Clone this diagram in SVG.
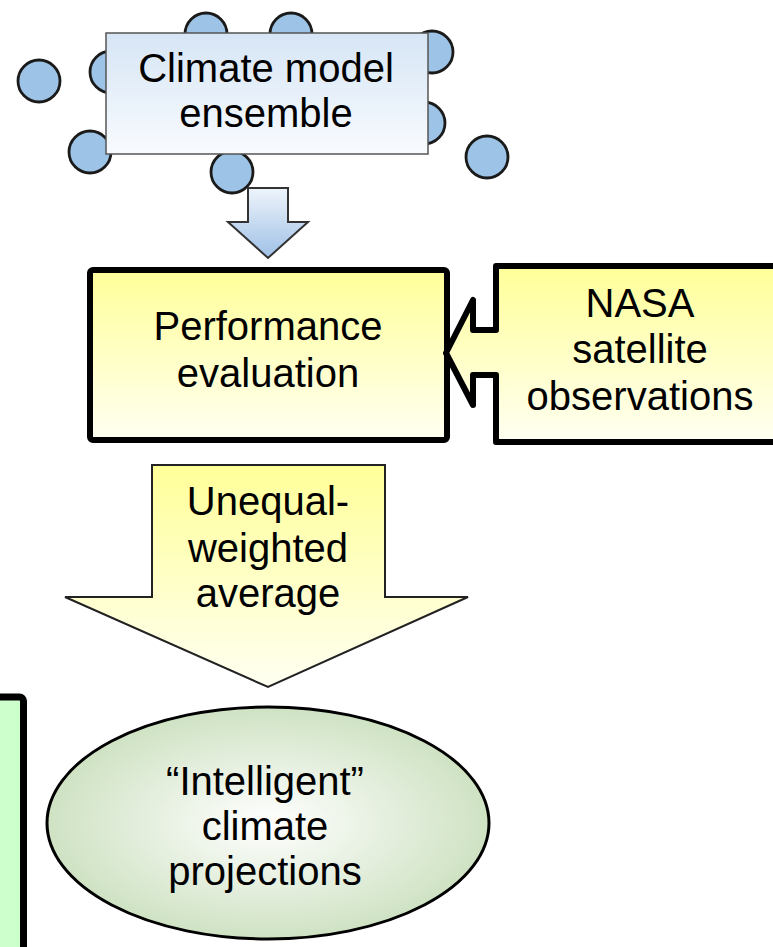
<svg xmlns="http://www.w3.org/2000/svg" width="773" height="947" viewBox="0 0 773 947">
<defs>
<linearGradient id="gBox" x1="0" y1="0" x2="0" y2="1"><stop offset="0" stop-color="#d6e5f5"/><stop offset="1" stop-color="#f8fbfe"/></linearGradient>
<linearGradient id="gBlueArrow" x1="0" y1="0" x2="0" y2="1"><stop offset="0" stop-color="#eef4fb"/><stop offset="1" stop-color="#9fc0e6"/></linearGradient>
<linearGradient id="gYellow" x1="0" y1="0" x2="0" y2="1"><stop offset="0" stop-color="#ffff99"/><stop offset="1" stop-color="#fffff2"/></linearGradient>
<radialGradient id="gGreen" cx="0.5" cy="0.5" r="0.5"><stop offset="0" stop-color="#ffffff"/><stop offset="1" stop-color="#cfe2c3"/></radialGradient>
<style>
.dot{fill:#9dc3e6;stroke:#1a1a1a;stroke-width:2.8}
.t{font-family:"Liberation Sans",Arial,sans-serif;font-size:40px;fill:#000;text-anchor:middle}
.thick{stroke:#000;stroke-width:6;stroke-linejoin:round}
</style>
</defs>
<g id="ensemble-dots">
<circle class="dot" cx="39" cy="81" r="21"/>
<circle class="dot" cx="206" cy="34" r="21"/>
<circle class="dot" cx="291" cy="34" r="21"/>
<circle class="dot" cx="111" cy="72" r="21"/>
<circle class="dot" cx="90" cy="152" r="21"/>
<circle class="dot" cx="232" cy="172" r="21"/>
<circle class="dot" cx="432" cy="52" r="21"/>
<circle class="dot" cx="424" cy="123" r="21"/>
<circle class="dot" cx="487" cy="157" r="21"/>
</g>
<g id="climate-model-ensemble">
<rect x="106" y="33" width="322" height="121" fill="url(#gBox)" stroke="#555" stroke-width="1.5"/>
<text class="t" x="266" y="82">Climate model</text>
<text class="t" x="266" y="127">ensemble</text>
</g>
<g id="connectors">
<path d="M248,188 H288 V222 H308 L268,258 L228,222 H248 Z" fill="url(#gBlueArrow)" stroke="#333" stroke-width="2"/>
<path d="M152,465 H385 V597 H468 L268,687 L65,597 H152 Z" fill="url(#gYellow)" stroke="#222" stroke-width="2"/>
</g>
<g id="performance-evaluation">
<rect x="90" y="270" width="357" height="170" rx="3" fill="url(#gYellow)" class="thick"/>
<text class="t" x="268" y="340">Performance</text>
<text class="t" x="268" y="387">evaluation</text>
</g>
<g id="nasa-observations">
<path d="M496,266 H790 V442 H496 V375 H473 V405 L446,353 L473,300 V330 H496 Z" fill="url(#gYellow)" class="thick"/>
<text class="t" x="640" y="317">NASA</text>
<text class="t" x="640" y="363">satellite</text>
<text class="t" x="640" y="410">observations</text>
</g>
<g id="unequal-weighted-average">
<text class="t" x="268" y="515">Unequal-</text>
<text class="t" x="268" y="562">weighted</text>
<text class="t" x="268" y="607">average</text>
</g>
<g id="side-panel">
<rect x="-60" y="697" width="83.5" height="300" rx="4" fill="#ccffcc" stroke="#000" stroke-width="7"/>
</g>
<g id="intelligent-projections">
<ellipse cx="268" cy="823" rx="221" ry="116" fill="url(#gGreen)" stroke="#000" stroke-width="3"/>
<text class="t" x="265" y="795">“Intelligent”</text>
<text class="t" x="265" y="840">climate</text>
<text class="t" x="265" y="885">projections</text>
</g>
</svg>
